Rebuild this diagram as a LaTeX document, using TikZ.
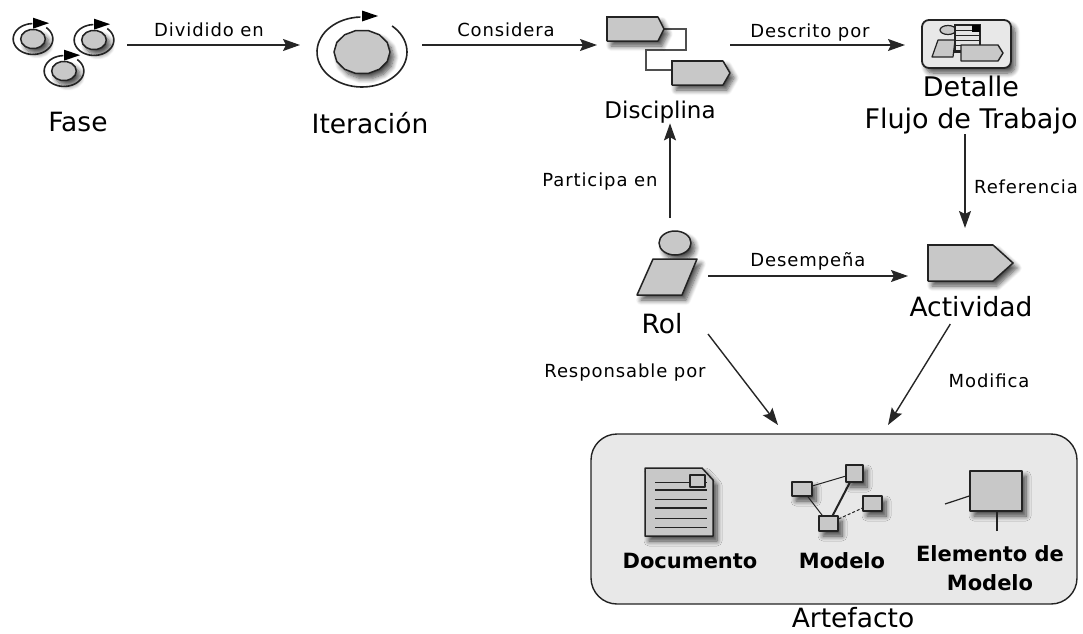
\documentclass[tikz,border=0pt]{standalone}
\usepackage{fontspec}
\usepackage{tikz}
\usetikzlibrary{arrows.meta,shadows.blur}
\setmainfont{DejaVu Sans}
\newfontfamily\fontetiqueta[LetterSpace=5]{DejaVu Sans}
\definecolor{relleno}{RGB}{200,200,200}
\definecolor{panel}{RGB}{232,232,232}
\definecolor{borde}{RGB}{35,35,35}
\tikzset{
  sombra/.style={blur shadow={shadow xshift=4pt,shadow yshift=-5pt,shadow blur steps=8,shadow blur radius=5pt,shadow opacity=70}},
  figura/.style={draw=borde,fill=relleno,line width=1.5pt,line join=round},
  flecha/.style={draw=black!85,line width=1.4pt,-{Stealth[length=17pt,width=12pt,inset=3pt]}},
  hueco/.style={inner sep=0pt,outer sep=0pt},
  etiqueta/.style={inner sep=0pt,font=\fontetiqueta\fontsize{18}{20}\selectfont},
  titulo/.style={inner sep=0pt,align=center,font=\fontsize{26.5}{32}\selectfont},
  negrita/.style={inner sep=0pt,align=center,font=\bfseries\fontsize{21}{29}\selectfont},
  cajita/.style={figura,line width=1.2pt,inner sep=0pt,sombra}
}
\newcommand{\drawthick}{\draw[line width=2.4pt,draw=borde]}
% #1 x, #2 y, #3 scale
\newcommand{\iconociclo}[3]{
  \begin{scope}[shift={(#1,#2)},scale=#3]
    \draw[figura,sombra] plot[domain=0:360,samples=15] ({28*cos(\x)},{22*sin(\x)}) -- cycle;
    \draw[line width=1.6pt,draw=borde] plot[domain=-48:268,samples=60] ({45*cos(\x)},{35*sin(\x)});
    \fill[black] (0,{-36-5.5/#3})--({16/#3},-36)--(0,{-36+5.5/#3})--cycle;
  \end{scope}
}
% #1 left, #2 top, #3 shoulder, #4 tip, #5 bottom
\newcommand{\pentagono}[5]{
  \draw[figura,sombra] (#1,#2)--(#3,#2)--(#4,{(#2+#5)/2})--(#3,#5)--(#1,#5)--cycle;
  \drawthick (#1,#5)--(#1,#2)--(#3,#2);
}
\begin{document}
\begin{tikzpicture}[x=1pt,y=-1pt]
\useasboundingbox (0,0) rectangle (1083,633);
% panel
\node[draw=borde,fill=panel,line width=1.4pt,rounded corners=26pt,minimum width=486pt,minimum height=170pt,hueco] (artefacto) at (834,519) {};
\coordinate (artizq) at (778,425);
\coordinate (artder) at (888,425);
% fase
\node[hueco,minimum width=114pt,minimum height=60pt] (fase) at (70,45) {};
\iconociclo{33}{39}{.44}
\iconociclo{94}{40}{.44}
\iconociclo{64}{71}{.44}
\node[titulo] (lblfase) at (78,122) {Fase};
% iteracion
\node[hueco,minimum width=122pt,minimum height=70pt] (iteracion) at (361,45) {};
\iconociclo{362}{52}{1}
\node[titulo] (lbliteracion) at (370,123) {Iteración};
% disciplina
\node[hueco,minimum width=133pt,minimum height=70pt] (disciplina) at (663.5,45) {};
\draw[line width=2.4pt,draw=borde!80] (664,29)--(686,29)--(686,50)--(646,50)--(646,70)--(672,70);
\pentagono{607}{17}{658}{664}{41}
\pentagono{672}{61}{723}{730}{85}
\node[titulo,font=\fontsize{23}{27}\selectfont] (lbldisciplina) at (660,112) {Disciplina};
% detalle
\node[hueco,minimum width=122pt,minimum height=50pt] (detalle) at (966,45) {};
\draw[draw=borde,fill=panel,line width=1.8pt,rounded corners=7pt,sombra] (922,20) rectangle (1011,68);
\fill[relleno,draw=borde,line width=1.2pt] (948,30) ellipse [x radius=8pt,y radius=4.5pt];
\draw[figura,line width=1.2pt] (938,40)--(955,40)--(953,57)--(932,57)--cycle;
\draw[fill=relleno!50,draw=borde,line width=1.2pt] (955,25) rectangle (980,52);
\foreach \y in {30,35,40,45,50}{
  \draw[borde,line width=1pt] (955,\y)--(980,\y);
}
\fill[black] (972,25) rectangle (980,32);
\draw[figura,line width=1.4pt] (961,45)--(998,45)--(1003,53)--(998,61)--(961,61)--cycle;
\node[titulo,font=\fontsize{27}{32}\selectfont] (lbldetalle) at (971,105) {Detalle\\Flujo de Trabajo};
% rol
\node[hueco,minimum width=76pt,minimum height=116pt] (rol) at (670,276) {};
\draw[figura,sombra] (675,243) ellipse [x radius=16pt,y radius=12pt];
\draw[figura,sombra] (653,259)--(697,259)--(682,295)--(637,295)--cycle;
\node[titulo] (lblrol) at (662,324) {Rol};
% actividad
\node[hueco,minimum width=114pt,minimum height=96pt] (actividad) at (965,276) {};
\pentagono{928}{245}{993}{1013}{281}
\node[titulo] (lblactividad) at (971,307) {Actividad};
% documento
\draw[figura,fill=relleno,sombra] (645,468)--(702,468)--(713,480)--(713,536)--(645,536)--cycle;
\foreach \y/\g in {482/1,490/2.2,499/1,508/2.2,518/1,527/1}{
  \draw[borde,line width=\g pt] (655,\y)--(707,\y);
}
\draw[figura,line width=1.6pt] (690,475) rectangle (705,487);
\node[negrita] (lbldocumento) at (690,561) {Documento};
% modelo
\node[cajita,minimum width=20pt,minimum height=14pt] (modeloa) at (802,489) {};
\node[cajita,minimum width=17pt,minimum height=17pt] (modelob) at (854.5,473.5) {};
\node[cajita,minimum width=19pt,minimum height=15pt] (modeloc) at (872.5,503.5) {};
\node[cajita,minimum width=19pt,minimum height=15pt] (modelod) at (828.5,523.5) {};
\draw[borde,line width=1pt] (modeloa)--(modelob);
\draw[borde,line width=1pt] (modeloa)--(modelod);
\draw[borde,line width=2pt] (modelob)--(modelod);
\draw[borde,line width=1pt,densely dashed] (modelod)--(modeloc);
\node[negrita] (lblmodelo) at (842,561) {Modelo};
% elemento de modelo
\node[cajita,line width=1.4pt,minimum width=52pt,minimum height=40pt] (elemento) at (996,491) {};
\coordinate (elemizq) at (945,504);
\coordinate (elemaba) at (997,531);
\draw[borde,line width=1.2pt] (elemizq)--(elemento.west|-0,496);
\draw[borde,line width=2pt] (elemaba)--(elemento.south-|997,0);
\node[negrita] (lblelemento) at (990,568) {Elemento de\\Modelo};
\node[titulo] (lblartefacto) at (853,618) {Artefacto};
% flechas
\draw[flecha] (fase.east)--(iteracion.west);
\draw[flecha] (iteracion.east)--(disciplina.west);
\draw[flecha] (disciplina.east)--(detalle.west);
\draw[flecha] (actividad.north|-lbldetalle.south)--(actividad.north);
\draw[flecha] (rol.north)--(rol.north|-lbldisciplina.south);
\draw[flecha] (rol.east)--(actividad.west);
\draw[flecha] (rol.south east)--(artizq);
\draw[flecha] (actividad.253)--(artder);
\node[etiqueta] (lbldividido) at (209,30) {Dividido en};
\node[etiqueta] (lblconsidera) at (506,30) {Considera};
\node[etiqueta] (lbldescrito) at (810,33) {Descrito por};
\node[etiqueta] (lblparticipa) at (600,182) {Participa en};
\node[etiqueta] (lblreferencia) at (1026,187) {Referencia};
\node[etiqueta] (lbldesempena) at (808,261) {Desempeña};
\node[etiqueta] (lblresponsable) at (625,373) {Responsable por};
\node[etiqueta] (lblmodifica) at (989,381) {Modifica};
\end{tikzpicture}
\end{document}
